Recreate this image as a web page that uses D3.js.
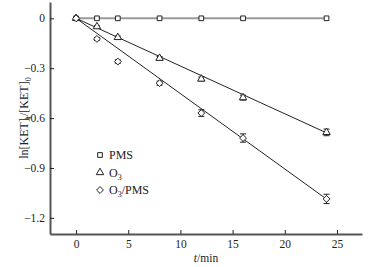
<!DOCTYPE html>
<html>
<head>
<meta charset="utf-8">
<script src="https://cdn.jsdelivr.net/npm/d3@7"></script>
<style>
body{margin:0;background:#fff;}
svg text{font-family:"Liberation Serif","DejaVu Serif",serif;}
</style>
</head>
<body>
<svg id="chart"></svg>
<script>
// 页面大小
var width = 371, height = 267;
var margin = {top:2, right:9, bottom:33, left:50};

// 数据
var times = [0, 2, 4, 8, 12, 16, 24];
var pmsValues = [0, 0, 0, 0, 0, 0, 0];
var o3Values = [0, -0.05, -0.115, -0.24, -0.365, -0.477, -0.686];
var o3Err = [0, 0.005, 0.008, 0.01, 0.012, 0.015, 0.02];
var o3pmsValues = [0, -0.124, -0.26, -0.39, -0.57, -0.72, -1.086];
var o3pmsErr = [0, 0.008, 0.01, 0.012, 0.02, 0.025, 0.028];
var fitSlopes = [0, -0.0287, -0.0453]; // PMS, O3, O3/PMS
var xTicks = [0, 5, 10, 15, 20, 25];
var yTicks = [0, -0.3, -0.6, -0.9, -1.2];

var svg = d3.select("#chart").attr("width", width).attr("height", height);

var x = d3.scaleLinear().domain([-2.5, 27.4]).range([margin.left, width - margin.right]);
var y = d3.scaleLinear().domain([0.098, -1.297]).range([margin.top, height - margin.bottom]);

var axisColor = "#555";

// x 轴
var gx = svg.append("g")
	.attr("transform", "translate(0," + (height - margin.bottom) + ")")
	.call(d3.axisBottom(x).tickValues(xTicks).tickSizeInner(-4).tickSizeOuter(0).tickPadding(6));
gx.select(".domain").attr("stroke", axisColor).attr("stroke-width", 2);
gx.selectAll(".tick line").attr("stroke", "#222");
gx.selectAll("text").attr("font-size", "11.5px").attr("fill", "#222").attr("dy", "0.71em");

// y 轴
var gy = svg.append("g")
	.attr("transform", "translate(" + margin.left + ",0)")
	.call(d3.axisLeft(y).tickValues(yTicks).tickSizeInner(-4).tickSizeOuter(0).tickPadding(5)
		.tickFormat(function(d){ return d === 0 ? "0" : d3.format(".1f")(d).replace("-", "\u2212"); }));
gy.select(".domain").attr("stroke", axisColor).attr("stroke-width", 2);
gy.selectAll(".tick line").attr("stroke", "#222");
gy.selectAll("text").attr("font-size", "11.5px").attr("fill", "#222");

// 轴标题
var xt = svg.append("text")
	.attr("x", (margin.left + width - margin.right) / 2)
	.attr("y", 262)
	.attr("text-anchor", "middle")
	.attr("font-size", "11.5px")
	.attr("fill", "#222");
xt.append("tspan").attr("font-style", "italic").text("t");
xt.append("tspan").text("/min");

var yt = svg.append("text")
	.attr("transform", "translate(28," + y(-0.6) + ") rotate(-90)")
	.attr("text-anchor", "middle")
	.attr("font-size", "12px")
	.attr("fill", "#222");
yt.append("tspan").text("ln[KET]");
yt.append("tspan").attr("font-size", "8px").attr("dy", "3").text("t");
yt.append("tspan").attr("dy", "-3").text("/[KET]");
yt.append("tspan").attr("font-size", "8px").attr("dy", "3").text("0");

// 拟合直线
var plot = svg.append("g");
var lineColors = ["#999", "#222", "#222"];
fitSlopes.forEach(function(k, i){
	plot.append("line")
		.attr("x1", x(0)).attr("y1", y(0))
		.attr("x2", x(24)).attr("y2", y(k * 24))
		.attr("stroke", lineColors[i])
		.attr("stroke-width", i === 0 ? 2 : 1);
});

// 误差线
function errBars(vals, errs){
	var g = plot.append("g");
	times.forEach(function(t, i){
		if (errs[i] <= 0) return;
		var cx = x(t), y1 = y(vals[i] + errs[i]), y2 = y(vals[i] - errs[i]);
		g.append("line").attr("x1", cx).attr("x2", cx).attr("y1", y1).attr("y2", y2).attr("stroke", "#222");
		g.append("line").attr("x1", cx - 3).attr("x2", cx + 3).attr("y1", y1).attr("y2", y1).attr("stroke", "#222");
		g.append("line").attr("x1", cx - 3).attr("x2", cx + 3).attr("y1", y2).attr("y2", y2).attr("stroke", "#222");
	});
}
errBars(o3Values, o3Err);
errBars(o3pmsValues, o3pmsErr);

// 标记
var sq = d3.symbol().type(d3.symbolSquare).size(22);
var tri = d3.symbol().type(d3.symbolTriangle).size(24);
var dia = d3.symbol().type(d3.symbolDiamond2).size(30);

function marks(vals, sym){
	plot.append("g").selectAll("path")
		.data(times)
		.enter()
		.append("path")
		.attr("d", sym)
		.attr("transform", function(t, i){ return "translate(" + x(t) + "," + y(vals[i]) + ")"; })
		.attr("fill", "#fff")
		.attr("stroke", "#222")
		.attr("stroke-width", 1);
}
marks(pmsValues, sq);
marks(o3Values, tri);
marks(o3pmsValues, dia);

// 图例
var legend = [
	{sym: sq, label: [["PMS", false]]},
	{sym: tri, label: [["O", false], ["3", true]]},
	{sym: dia, label: [["O", false], ["3", true], ["/PMS", false]]}
];
legend.forEach(function(d, i){
	var ly = 155 + i * 17.5;
	svg.append("path").attr("d", d.sym)
		.attr("transform", "translate(100," + ly + ")")
		.attr("fill", "#fff").attr("stroke", "#222");
	var t = svg.append("text").attr("x", 109).attr("y", ly + 4)
		.attr("font-size", "12px").attr("fill", "#222");
	var sub = false;
	d.label.forEach(function(p){
		var s = t.append("tspan").text(p[0]);
		if (p[1]) { s.attr("font-size", "8px").attr("dy", "3"); sub = true; }
		else if (sub) { s.attr("dy", "-3"); sub = false; }
	});
});
</script>
</body>
</html>
